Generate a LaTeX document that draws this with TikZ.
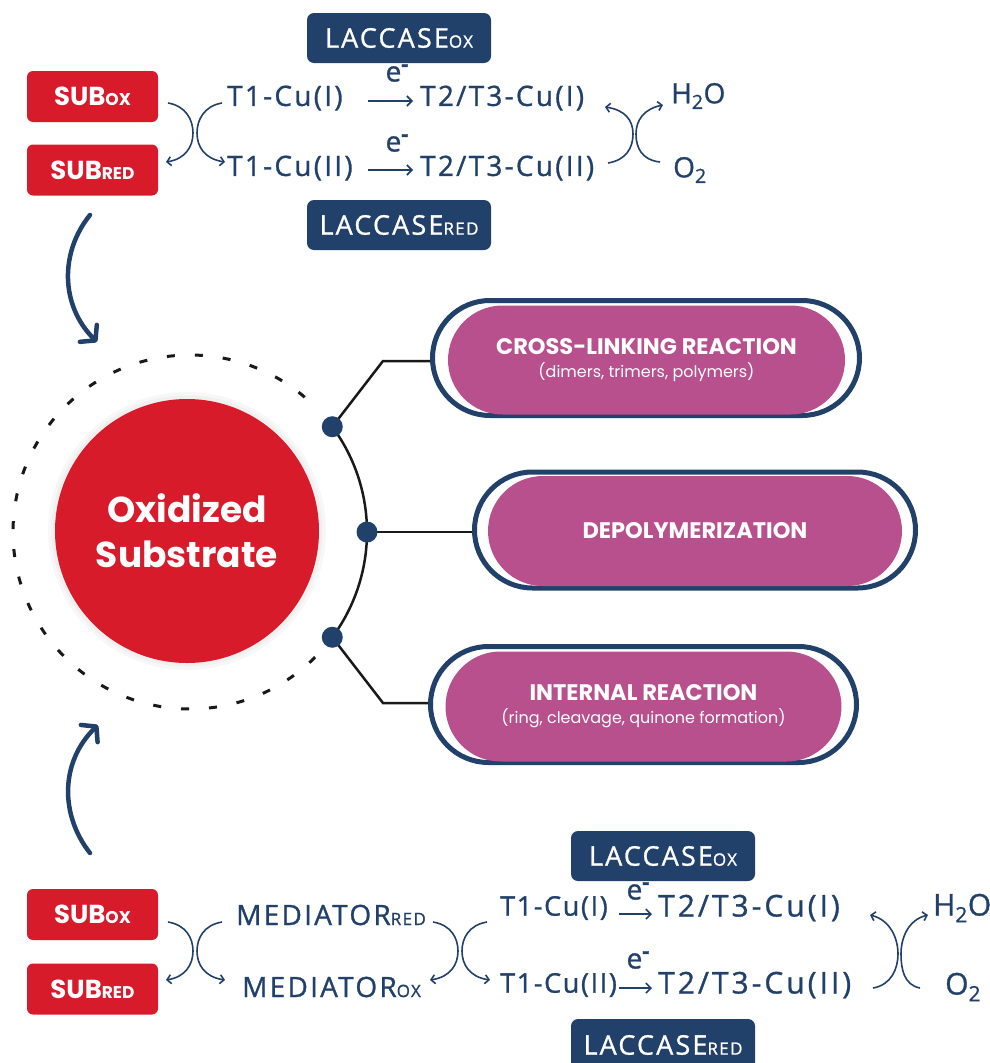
\documentclass[tikz,border=0pt]{standalone}
\usepackage{fontspec}
\setmainfont{Open Sans}
\newfontfamily\pop{Poppins}
\newfontfamily\chemA{Open Sans}[LetterSpace=8,FakeBold=1.0]
\newfontfamily\chemB{Open Sans}[LetterSpace=6,FakeBold=1.0]
\newfontfamily\chemC{Open Sans}[LetterSpace=10,FakeBold=1.0]
\usetikzlibrary{arrows.meta,shapes.misc,calc}
\definecolor{navy}{HTML}{21406A}
\definecolor{cred}{HTML}{D71B2B}
\definecolor{mag}{HTML}{B8508E}
\newcommand\smc[1]{{\fontsize{17}{17}\selectfont #1}}
\newcommand\emin{e\raisebox{10pt}{\fontsize{22}{22}\selectfont\bfseries -}}
\begin{document}
\begin{tikzpicture}[x=1pt,y=-1pt,
  subbox/.style={fill=cred, rounded corners=6pt, minimum width=131pt, minimum height=51pt, inner sep=0pt, text=white, font=\pop\bfseries\fontsize{26}{26}\selectfont},
  labox/.style={fill=navy, rounded corners=7pt, minimum width=184pt, minimum height=50pt, inner sep=0pt, text=white, font=\chemA\fontsize{27}{27}\selectfont},
  chem/.style={text=navy, font=\chemA\fontsize{28}{28}\selectfont, inner sep=0pt, anchor=west},
  chemb/.style={chem, font=\chemB\fontsize{27}{27}\selectfont},
  chemc/.style={chem, font=\chemC\fontsize{30}{30}\selectfont},
  elab/.style={text=navy, font=\chemA\fontsize{28}{28}\selectfont, inner sep=0pt},
  thinarc/.style={draw=navy, line width=1.6pt, -{Straight Barb[length=4pt,width=9pt]}},
  rarr/.style={draw=navy, line width=1.6pt, -{Straight Barb[length=5pt,width=10pt]}},
  bigarr/.style={draw=navy, line width=4.5pt, line cap=round, -{Straight Barb[round,length=10pt,width=24pt]}},
  pillout/.style={rounded rectangle, draw=navy, line width=5pt, inner sep=0pt},
  pillin/.style={rounded rectangle, fill=mag, inner sep=0pt, text=white, align=center, font=\pop\bfseries\fontsize{22.5}{26}\selectfont},
  dot/.style={circle, fill=navy, minimum size=21pt, inner sep=0pt},
  conn/.style={draw=black!90, line width=2.5pt},
]
\useasboundingbox (0,0) rectangle (990,1063);
\clip (0,0) rectangle (990,1063);

% ---------- top reaction ----------
\node[labox] (lox) at (399,38) {LACCASE\smc{OX}};
\node[labox] (lred) at (399,225) {LACCASE\smc{RED}};
\node[subbox] (sox) at (92.5,96.5) {SUB\smc{OX}};
\node[subbox] (sred) at (92.5,170) {SUB\smc{RED}};
\node[chem] (t1a) at (227,98) {T1-Cu(I)};
\node[chem] (t2a) at (420,98) {T2/T3-Cu(I)};
\node[chem] (t1b) at (227,168) {T1-Cu(II)};
\node[chem] (t2b) at (420,168) {T2/T3-Cu(II)};
\node[chem] (h2o) at (671,96) {H\textsubscript{2}O};
\node[chem] (o2) at (673,170) {O\textsubscript{2}};
\node[elab] (e1) at (397,73) {\emin};
\node[elab] (e2) at (397,143) {\emin};
\coordinate (a1s) at (368,101); \coordinate (a1e) at (413,101);
\coordinate (a2s) at (368,170); \coordinate (a2e) at (413,170);
\draw[rarr] (a1s) -- (a1e);
\draw[rarr] (a2s) -- (a2e);
% left X
\draw[thinarc] (168,103) .. controls (186,106) and (193,120) .. (193,133) .. controls (193,147) and (185,159) .. (166,162);
\draw[thinarc] (222,103) .. controls (204,106) and (197,120) .. (197,133) .. controls (197,147) and (205,159) .. (225,162);
% right X
\draw[thinarc] (608,163) .. controls (626,160) and (633,148) .. (633,134) .. controls (633,120) and (625,110) .. (605,107);
\draw[thinarc] (660,162) .. controls (642,160) and (636,148) .. (636,134) .. controls (636,120) and (644,109) .. (663,105);

% ---------- big curved arrows ----------
\coordinate (bt0) at (90,215); \coordinate (bt1) at (97,342);
\draw[bigarr] (bt0) .. controls (60,252) and (60,305) .. (bt1);
\coordinate (bb0) at (90,853); \coordinate (bb1) at (98,725);
\draw[bigarr] (bb0) .. controls (60,815) and (60,762) .. (bb1);

% ---------- central circle ----------
\coordinate (cen) at (190,532);
\draw[black!90, line width=3pt, dash pattern=on 8pt off 20pt] ($(cen)+(45:177)$) arc[start angle=45, end angle=315, radius=177];
\draw[conn] ($(cen)+(-36.5:177)$) arc[start angle=-36.5, end angle=36.5, radius=177];
\fill[black!3] (187,531) circle (139);
\fill[black!6] (187,531) circle (135.5);
\node[circle, fill=cred, minimum size=264pt, inner sep=0pt, text=white, align=center,
      font=\pop\bfseries\fontsize{36}{45}\selectfont] (ox) at (187,531) {Oxidized\\Substrate};

% ---------- pills ----------
\node[pillout, minimum width=427pt, minimum height=115pt] (p1) at (646,358) {};
\node[pillin, minimum width=397pt, minimum height=109pt] (p1i) at (646.5,360)
  {CROSS-LINKING REACTION\\[-3pt]{\pop\mdseries\fontsize{16}{18}\selectfont (dimers, trimers, polymers)}};
\node[pillout, minimum width=441pt, minimum height=116pt] (p2) at (695,530) {};
\node[pillin, minimum width=414pt, minimum height=110pt] (p2i) at (695,531) {DEPOLYMERIZATION};
\node[pillout, minimum width=426pt, minimum height=116pt] (p3) at (643.5,704.5) {};
\node[pillin, minimum width=396pt, minimum height=110pt] (p3i) at (643.5,706.5)
  {INTERNAL REACTION\\[-3pt]{\pop\mdseries\fontsize{16}{18}\selectfont (ring, cleavage, quinone formation)}};

% ---------- connectors ----------
\coordinate (c1) at ($(cen)+(-36.5:177)$);
\coordinate (c2) at ($(cen)+(0:177)$);
\coordinate (c3) at ($(cen)+(36.5:177)$);
\coordinate (k1) at (383,361);
\coordinate (k3) at (383,703);
\draw[conn] (c1) -- (k1) -- (k1 -| p1.west);
\draw[conn] (c2) -- (c2 -| p2.west);
\draw[conn] (c3) -- (k3) -- (k3 -| p3.west);
\node[dot] (d1) at (c1) {};
\node[dot] (d2) at (c2) {};
\node[dot] (d3) at (c3) {};

% ---------- bottom reaction ----------
\node[labox] (lox2) at (663,856) {LACCASE\smc{OX}};
\node[labox, minimum height=52pt] (lred2) at (663,1045) {LACCASE\smc{RED}};
\node[subbox] (sox2) at (92.5,914.5) {SUB\smc{OX}};
\node[subbox] (sred2) at (92.5,989) {SUB\smc{RED}};
\node[chem] (mred) at (236,915) {MEDIATOR\smc{RED}};
\node[chem] (mox) at (242,987) {MEDIATOR\smc{OX}};
\node[chemb] (t1c) at (500,908) {T1-Cu(I)};
\node[chemc] (t2c) at (658,908) {T2/T3-Cu(I)};
\node[chemb] (t1d) at (500,985) {T1-Cu(II)};
\node[chemc] (t2d) at (658,985) {T2/T3-Cu(II)};
\node[chemc] (h2o2) at (933,908) {H\textsubscript{2}O};
\node[chemc] (o22) at (945,987) {O\textsubscript{2}};
\node[elab] (e3) at (638,891) {\emin};
\node[elab] (e4) at (638,960) {\emin};
\coordinate (a3s) at (619,914); \coordinate (a3e) at (652,914);
\coordinate (a4s) at (619,988); \coordinate (a4e) at (652,988);
\draw[rarr] (a3s) -- (a3e);
\draw[rarr] (a4s) -- (a4e);
% left X
\draw[thinarc] (168,922) .. controls (186,925) and (193,938) .. (193,951) .. controls (193,965) and (185,977) .. (166,980);
\draw[thinarc] (222,922) .. controls (204,925) and (197,938) .. (197,951) .. controls (197,965) and (205,977) .. (225,980);
% middle X
\draw[thinarc] (433,922) .. controls (451,925) and (458,938) .. (458,951) .. controls (458,965) and (450,977) .. (430,980);
\draw[thinarc] (487,922) .. controls (469,925) and (462,938) .. (462,951) .. controls (462,965) and (470,977) .. (490,980);
% right X
\draw[thinarc] (873,988) .. controls (891,985) and (898,969) .. (898,954) .. controls (898,938) and (890,920) .. (870,915);
\draw[thinarc] (920,988) .. controls (904,985) and (901,969) .. (901,954) .. controls (901,938) and (908,920) .. (928,915);
\end{tikzpicture}
\end{document}
